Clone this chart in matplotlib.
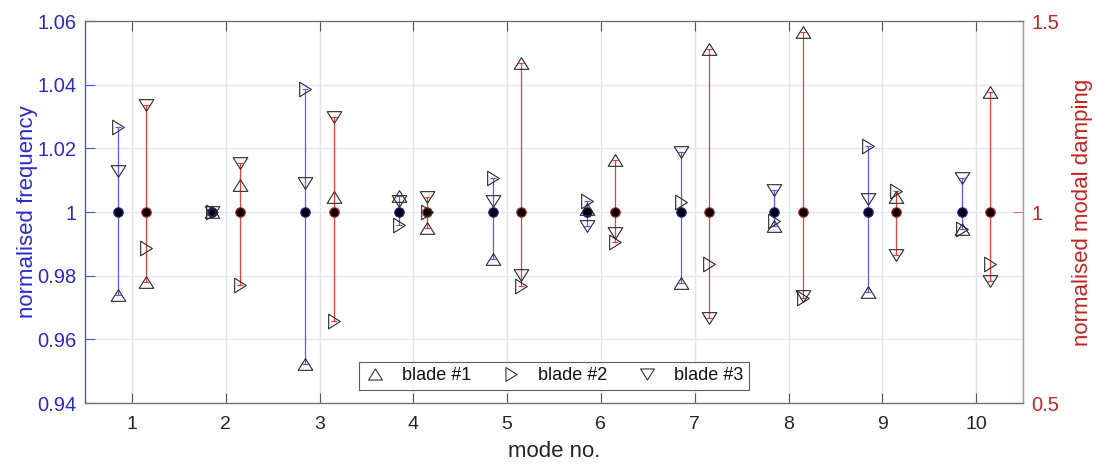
import matplotlib
matplotlib.use("Agg")
import matplotlib.pyplot as plt
from matplotlib.lines import Line2D
from matplotlib.path import Path
import numpy as np

plt.rcParams['font.family'] = ['Liberation Sans', 'DejaVu Sans']

# ---- data ----
modes = [1, 2, 3, 4, 5, 6, 7, 8, 9, 10]
freq_blade1 = [0.9739, 1.0001, 0.9523, 1.0050, 0.9851, 1.0008, 0.9778, 0.9956, 0.9750, 0.9948]
freq_blade2 = [1.0268, 0.9999, 1.0385, 0.9960, 1.0106, 1.0036, 1.0032, 0.9972, 1.0208, 0.9946]
freq_blade3 = [1.0130, 1.0000, 1.0092, 1.0033, 1.0035, 0.9955, 1.0189, 1.0069, 1.0041, 1.0106]
damp_blade1 = [0.818, 1.071, 1.0385, 0.957, 1.391, 1.136, 1.426, 1.472, 1.040, 1.315]
damp_blade2 = [0.905, 0.809, 0.7155, 1.000, 0.807, 0.922, 0.864, 0.775, 1.055, 0.864]
damp_blade3 = [1.280, 1.129, 1.248, 1.040, 0.835, 0.944, 0.723, 0.779, 0.887, 0.820]
reference = [1.0] * len(modes)
legend_labels = ['blade #1', 'blade #2', 'blade #3']
xtick_labels = [str(m) for m in modes]
freq_ticks = [0.94, 0.96, 0.98, 1.0, 1.02, 1.04, 1.06]
freq_ticklabels = ['0.94', '0.96', '0.98', '1', '1.02', '1.04', '1.06']
damp_ticks = [0.5, 1.0, 1.5]
damp_ticklabels = ['0.5', '1', '1.5']

# ---- styles ----
BLUE_TXT = '#2b2bcc'
RED_TXT = '#c42424'
BLUE_LINE = '#5c5cf0'
RED_LINE = '#e84040'
GRAY = '#262626'
offset = 0.15

def tri(pts):
    verts = list(pts) + [pts[0]]
    codes = [Path.MOVETO, Path.LINETO, Path.LINETO, Path.CLOSEPOLY]
    return Path(verts, codes)

up = tri([(0, 0.8), (-1, -0.8), (1, -0.8)])
right = tri([(-0.8, 1), (-0.8, -1), (0.8, 0)])
down = tri([(0, -0.8), (-1, 0.8), (1, 0.8)])
markers = [up, right, down]

fig = plt.figure(figsize=(10.97, 4.65), dpi=100)
ax = fig.add_axes([85/1097, 62/465, (1023-85)/1097, (403-21)/465])
ax2 = ax.twinx()

x = np.array(modes, dtype=float)
xf = x - offset
xd = x + offset

def draw(a, xs, series, col, ms_edge):
    arr = np.array(series)
    lo = arr.min(axis=0)
    hi = arr.max(axis=0)
    ref = np.array(reference)
    a.errorbar(xs, ref, yerr=[ref - lo, hi - ref], fmt='none', ecolor=col,
               elinewidth=0.9, capsize=2.3, capthick=0.9, zorder=2)
    a.plot(xs, ref, 'o', ms=6.8, mfc='black', mec=ms_edge, mew=0.8,
           linestyle='none', zorder=3)
    for s, mk in zip(series, markers):
        a.plot(xs, s, linestyle='none', marker=mk, ms=10.5, mfc='none',
               mec='#2a2a2a', mew=0.8, zorder=4)

draw(ax, xf, [freq_blade1, freq_blade2, freq_blade3], BLUE_LINE, '#2020c0')
draw(ax2, xd, [damp_blade1, damp_blade2, damp_blade3], RED_LINE, '#c02020')

ax.set_xlim(0.5, 10.5)
ax.set_ylim(0.94, 1.06)
ax2.set_ylim(0.5, 1.5)
ax.set_xticks(modes)
ax.set_xticklabels(xtick_labels)
ax.set_yticks(freq_ticks)
ax.set_yticklabels(freq_ticklabels)
ax2.set_yticks(damp_ticks)
ax2.set_yticklabels(damp_ticklabels)

ax.xaxis.grid(True, color='#e3e3e3', lw=1.0)
ax.yaxis.grid(True, color='#e4e4fa', lw=1.0)
ax.set_axisbelow(True)

ax.tick_params(axis='x', direction='in', top=True, length=7, width=0.8,
               colors='#555555', labelcolor=GRAY, labelsize=14, pad=9)
ax.tick_params(axis='y', direction='in', length=7, width=0.8,
               colors='#5050e0', labelcolor=BLUE_TXT, labelsize=14.5, pad=6)
ax2.tick_params(axis='y', direction='in', length=7, width=0.8,
                colors='#e07070', labelcolor=RED_TXT, labelsize=14.5, pad=6)

for sp in ['top', 'bottom']:
    ax2.spines[sp].set_color('#707070')
    ax.spines[sp].set_color('#707070')
ax2.spines['left'].set_color('#5050e0')
ax.spines['left'].set_color('#5050e0')
ax2.spines['right'].set_color('#e08080')
for sp in ax2.spines.values():
    sp.set_linewidth(0.9)

ax.set_xlabel('mode no.', fontsize=16, color=GRAY, labelpad=6)
ax.set_ylabel('normalised frequency', fontsize=16, color=BLUE_TXT)
ax.yaxis.set_label_coords(-0.05, 0.5)
ax2.set_ylabel('normalised modal damping', fontsize=16, color=RED_TXT)
ax2.yaxis.set_label_coords(1.052, 0.5)

handles = [Line2D([], [], linestyle='none', marker=mk, ms=10, mfc='none',
                  mec='#333333', mew=0.8) for mk in markers]
leg = ax2.legend(handles, legend_labels, loc='lower center', ncol=3,
                 fontsize=13, frameon=True, fancybox=False,
                 bbox_to_anchor=(0.5, 0.035), handlelength=1.2,
                 handletextpad=0.9, columnspacing=1.6, borderpad=0.3,
                 borderaxespad=0.0)
leg.get_frame().set_edgecolor('#333333')
leg.get_frame().set_linewidth(0.8)
for t in leg.get_texts():
    t.set_color('#111111')

fig.savefig('out.png', dpi=100)
